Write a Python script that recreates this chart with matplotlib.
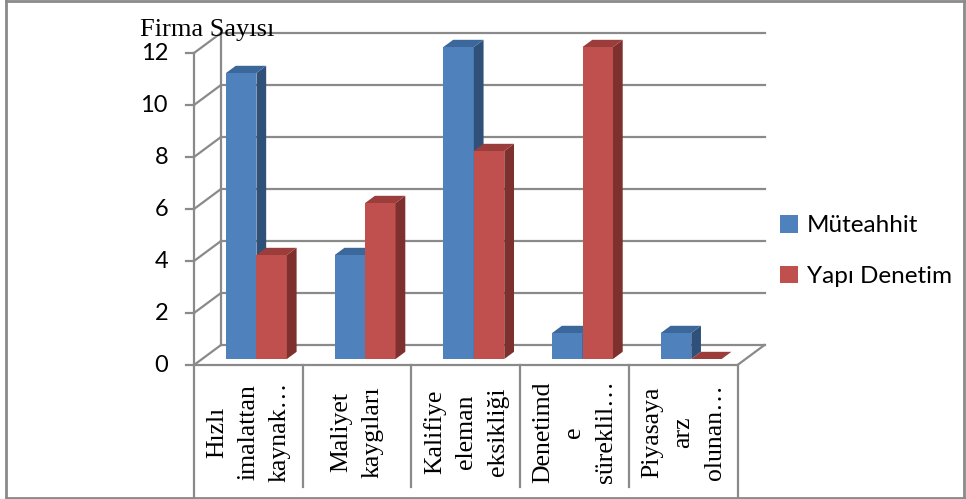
import matplotlib
matplotlib.use("Agg")
import matplotlib.pyplot as plt
from matplotlib.patches import Polygon, Patch

categories = ["Hızlı\nimalattan\nkaynak…", "Maliyet\nkaygıları", "Kalifiye\neleman\neksikliği",
              "Denetimd\ne\nsüreklil…", "Piyasaya\narz\nolunan…"]
muteahhit = [11, 4, 12, 1, 1]
yapi_denetim = [4, 6, 8, 12, 0]
series_names = ["Müteahhit", "Yapı Denetim"]
y_ticks = [0, 2, 4, 6, 8, 10, 12]

# colours (front, top, side)
blue = ("#4F81BD", "#3B679A", "#2F5179")
red = ("#C0504D", "#9B3D3B", "#7E302E")
grid_c = "#8A8A8A"

# layout in pixels -> data scale
W, H = 966, 499
x0_px, cw_px = 194, 108.7       # category axis start, width per category
y0_px, uh_px = 365, 26.0        # value 0 position, px per unit
DX = 27 / cw_px                 # depth offset in category units
DY = 20 / uh_px                 # depth offset in value units

fig = plt.figure(figsize=(W / 100, H / 100), dpi=100)
ax = fig.add_axes([0, 0, 1, 1])
ax.set_xlim(-x0_px / cw_px, (W - x0_px) / cw_px)
ax.set_ylim((y0_px - H) / uh_px, y0_px / uh_px)
ax.axis("off")

n = len(categories)
ymax = y_ticks[-1]
lw = 1.6

# back wall gridlines and left wall diagonals
for v in y_ticks:
    ax.plot([DX, n + DX], [v + DY, v + DY], color=grid_c, lw=lw, zorder=1)
    ax.plot([0, DX], [v, v + DY], color=grid_c, lw=lw, zorder=1)
    ax.plot([-8 / cw_px, 0], [v, v], color=grid_c, lw=lw, zorder=1)
    ax.text(-26 / cw_px, v, str(v), ha="right", va="center", fontsize=17,
            family="Lato", color="black")
ax.plot([DX, DX], [DY, ymax + DY], color=grid_c, lw=lw, zorder=1)
ax.plot([0, 0], [0, ymax], color=grid_c, lw=lw, zorder=1)
# floor outline
ax.plot([0, n, n + DX], [0, 0, DY], color=grid_c, lw=lw, zorder=1)

# category table
bottom_v = (y0_px - 498) / uh_px
inner_v = (y0_px - 487) / uh_px
for i in range(n + 1):
    yb = bottom_v if i in (0, n) else inner_v
    ax.plot([i, i], [0, yb], color=grid_c, lw=lw, zorder=1)
for i, lab in enumerate(categories):
    ax.text(i + 0.5, (y0_px - 432) / uh_px, lab, rotation=90, ha="center", va="center",
            multialignment="center", fontsize=18.5, family="Liberation Serif",
            linespacing=1.55)

# outer border
top_v = (y0_px - 1) / uh_px
left_u, right_u = -188 / cw_px, (964 - x0_px) / cw_px
ax.plot([left_u, left_u], [bottom_v, top_v], color=grid_c, lw=2)
ax.plot([right_u, right_u], [bottom_v, top_v], color=grid_c, lw=2)
ax.plot([left_u, right_u], [top_v, top_v], color=grid_c, lw=2)
ax.plot([left_u, right_u], [bottom_v, bottom_v], color=grid_c, lw=2)

# 3D bars
df, db = 0.3, 0.66
bw = 0.28
start = 0.22


def bar3d(xl, h, cols, z):
    x_l = xl + df * DX
    x_r = x_l + bw
    yb = df * DY
    ddx, ddy = (db - df) * DX, (db - df) * DY
    front = [(x_l, yb), (x_r, yb), (x_r, yb + h), (x_l, yb + h)]
    top = [(x_l, yb + h), (x_r, yb + h), (x_r + ddx, yb + h + ddy), (x_l + ddx, yb + h + ddy)]
    side = [(x_r, yb), (x_r + ddx, yb + ddy), (x_r + ddx, yb + h + ddy), (x_r, yb + h)]
    if h > 0:
        ax.add_patch(Polygon(front, closed=True, fc=cols[0], ec="none", zorder=z))
        ax.add_patch(Polygon(side, closed=True, fc=cols[2], ec="none", zorder=z))
    ax.add_patch(Polygon(top, closed=True, fc=cols[1], ec="none", zorder=z))


for i in range(n):
    bar3d(i + start, muteahhit[i], blue, 3 + 2 * i)
    bar3d(i + start + bw, yapi_denetim[i], red, 4 + 2 * i)

ax.text(-54 / cw_px, (y0_px - 30) / uh_px, "Firma Sayısı", ha="left", va="center",
        fontsize=19, family="Liberation Serif")

handles = [Patch(fc=blue[0], ec="none"), Patch(fc=red[0], ec="none")]
fig.legend(handles, series_names, loc="center left", bbox_to_anchor=(780 / W, 1 - 251 / H),
           frameon=False, prop={"family": "Lato", "size": 17.5},
           handlelength=0.75, handleheight=0.75, handletextpad=0.35,
           labelspacing=1.2, borderpad=0, borderaxespad=0)

fig.savefig("out.png", dpi=100)
